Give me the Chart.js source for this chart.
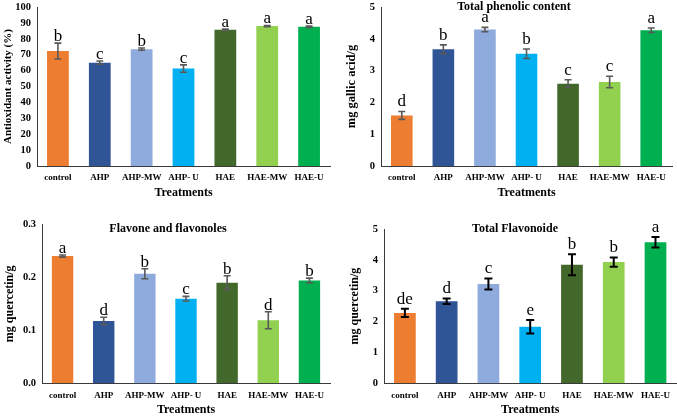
<!DOCTYPE html>
<html><head><meta charset="utf-8">
<script src="https://cdn.jsdelivr.net/npm/chart.js@4/dist/chart.umd.min.js"></script>
<style>
html,body{margin:0;padding:0;background:#fff;width:677px;height:418px;overflow:hidden;}
.p{position:absolute;}
canvas{display:block;}
</style></head><body>
<div class="p" style="left:0;top:0;"><canvas id="c1" width="338" height="205"></canvas></div>
<div class="p" style="left:338px;top:0;"><canvas id="c2" width="339" height="205"></canvas></div>
<div class="p" style="left:0;top:205px;"><canvas id="c3" width="338" height="213"></canvas></div>
<div class="p" style="left:338px;top:205px;"><canvas id="c4" width="339" height="213"></canvas></div>
<script>
// ---- data ----
const categories = ['control', 'AHP', 'AHP-MW', 'AHP- U', 'HAE', 'HAE-MW', 'HAE-U'];
const barColors = ['#ED7D31', '#2F5597', '#8FAADC', '#00B0F0', '#43682B', '#92D050', '#00B050'];

const antioxValues = [72.3, 65.0, 73.5, 61.3, 85.7, 88.0, 87.6];
const antioxErrors = [5.0, 1.0, 0.7, 2.3, 0.5, 0.4, 0.4];
const antioxLetters = ['b', 'c', 'b', 'c', 'a', 'a', 'a'];
const antioxTicks = ['0', '10', '20', '30', '40', '50', '60', '70', '80', '90', '100'];

const phenolicValues = [1.59, 3.67, 4.29, 3.53, 2.59, 2.64, 4.27];
const phenolicErrors = [0.125, 0.14, 0.07, 0.15, 0.12, 0.18, 0.07];
const phenolicLetters = ['d', 'b', 'a', 'b', 'c', 'c', 'a'];
const phenolicTicks = ['0', '1', '2', '3', '4', '5'];

const flavoneValues = [0.240, 0.1177, 0.2067, 0.1597, 0.1898, 0.119, 0.194];
const flavoneErrors = [0.002, 0.007, 0.0094, 0.0044, 0.013, 0.016, 0.0044];
const flavoneLetters = ['a', 'd', 'b', 'c', 'b', 'd', 'b'];
const flavoneTicks = ['0.0', '0.1', '0.2', '0.3'];

const flavonoidValues = [2.28, 2.66, 3.22, 1.83, 3.84, 3.93, 4.57];
const flavonoidErrors = [0.135, 0.09, 0.18, 0.22, 0.34, 0.15, 0.17];
const flavonoidLetters = ['de', 'd', 'c', 'e', 'b', 'b', 'a'];
const flavonoidTicks = ['0', '1', '2', '3', '4', '5'];

// ---- plugin: y tick labels, error bars, letters, panel title ----
const extras = {
  id: 'extras',
  afterDatasetsDraw(chart, args, o) {
    const ctx = chart.ctx;
    const meta = chart.getDatasetMeta(0);
    const ys = chart.scales.y;
    const vals = chart.data.datasets[0].data;
    ctx.save();
    // y-axis tick labels, placed by the y scale
    ctx.font = 'bold 10.5px "Liberation Serif"';
    ctx.fillStyle = '#000';
    ctx.textAlign = 'right';
    ctx.textBaseline = 'middle';
    o.ticks.forEach(t => {
      ctx.fillText(t, chart.chartArea.left - o.tickPad, ys.getPixelForValue(parseFloat(t)));
    });
    meta.data.forEach((bar, i) => {
      const v = vals[i], e = o.errors[i];
      const yT = ys.getPixelForValue(v + e);
      const yB = ys.getPixelForValue(v - e);
      ctx.strokeStyle = o.errColor;
      ctx.lineWidth = o.errWidth;
      ctx.beginPath();
      ctx.moveTo(bar.x, yT); ctx.lineTo(bar.x, yB);
      ctx.moveTo(bar.x - o.cap, yT); ctx.lineTo(bar.x + o.cap, yT);
      ctx.moveTo(bar.x - o.cap, yB); ctx.lineTo(bar.x + o.cap, yB);
      ctx.stroke();
      ctx.fillStyle = '#000';
      ctx.font = '17px "Liberation Serif"';
      ctx.textAlign = 'center';
      ctx.textBaseline = 'alphabetic';
      ctx.fillText(o.letters[i], bar.x, yT - o.gap);
    });
    if (o.title) {
      ctx.font = 'bold 12px "Liberation Serif"';
      ctx.textAlign = 'center';
      ctx.textBaseline = 'middle';
      ctx.fillStyle = '#000';
      ctx.fillText(o.title, o.titleX, o.titleY);
    }
    ctx.restore();
  }
};

function makeChart(id, p) {
  new Chart(document.getElementById(id), {
    type: 'bar',
    data: {
      labels: categories,
      datasets: [{ data: p.values, backgroundColor: barColors, borderWidth: 0,
        categoryPercentage: 1, barPercentage: 0.52 }]
    },
    plugins: [extras],
    options: {
      responsive: false, animation: false, devicePixelRatio: 1,
      layout: { padding: { left: 0, top: p.padTop, right: p.padRight, bottom: 0 } },
      plugins: {
        legend: { display: false }, tooltip: { enabled: false },
        extras: { ticks: p.ticks, tickPad: 6, errors: p.errors, letters: p.letters, gap: p.gap,
          errColor: p.errColor, errWidth: p.errWidth, cap: p.cap,
          title: p.title, titleX: p.titleX, titleY: p.titleY }
      },
      scales: {
        x: {
          grid: { display: false, drawTicks: false },
          border: { display: true, color: '#3a3a3a', width: 1 },
          ticks: { color: '#000', font: { family: '"Liberation Serif"', weight: 'bold', size: 9 },
            padding: p.xTickPad, maxRotation: 0, autoSkip: false },
          title: { display: true, text: 'Treatments', color: '#000',
            font: { family: '"Liberation Serif"', weight: 'bold', size: 12 },
            padding: { top: 0, bottom: p.xTitlePad } },
          afterFit(s) { s.height = p.xHeight; }
        },
        y: {
          min: p.min, max: p.max,
          grid: { display: false, drawTicks: false },
          border: { display: true, color: '#3a3a3a', width: 1 },
          ticks: { display: false },
          title: { display: true, text: p.yTitle, color: '#000',
            font: { family: '"Liberation Serif"', weight: 'bold', size: p.yTitleSize },
            padding: { top: p.yTitlePad, bottom: 0 } },
          afterFit(s) { s.width = p.yWidth; }
        }
      }
    }
  });
}

makeChart('c1', { values: antioxValues, errors: antioxErrors, letters: antioxLetters, ticks: antioxTicks,
  min: 0, max: 100, yTitle: 'Antioxidant activity (%)', yTitleSize: 11, yTitlePad: 1.4,
  padTop: 7, padRight: 8, yWidth: 37, xHeight: 39, xTickPad: 6, xTitlePad: 4.8,
  gap: 2, errColor: '#595959', errWidth: 1.6, cap: 3.5 });

makeChart('c2', { values: phenolicValues, errors: phenolicErrors, letters: phenolicLetters, ticks: phenolicTicks,
  min: 0, max: 5, yTitle: 'mg gallic acid/g', yTitleSize: 12.5, yTitlePad: 6.5,
  padTop: 7, padRight: 5, yWidth: 43, xHeight: 39, xTickPad: 6, xTitlePad: 4.8,
  gap: 5, errColor: '#595959', errWidth: 1.6, cap: 3.5,
  title: 'Total phenolic content', titleX: 176, titleY: 7 });

makeChart('c3', { values: flavoneValues, errors: flavoneErrors, letters: flavoneLetters, ticks: flavoneTicks,
  min: 0, max: 0.3, yTitle: 'mg quercetin/g', yTitleSize: 12, yTitlePad: 2.8,
  padTop: 19.3, padRight: 8, yWidth: 42, xHeight: 34.7, xTickPad: 7, xTitlePad: 0.8,
  gap: 2, errColor: '#595959', errWidth: 1.6, cap: 3.5,
  title: 'Flavone and flavonoles', titleX: 168, titleY: 23.5 });

makeChart('c4', { values: flavonoidValues, errors: flavonoidErrors, letters: flavonoidLetters, ticks: flavonoidTicks,
  min: 0, max: 5, yTitle: 'mg quercetin/g', yTitleSize: 12, yTitlePad: 9.8,
  padTop: 24, padRight: 0, yWidth: 46, xHeight: 34.7, xTickPad: 7, xTitlePad: 0.8,
  gap: 5, errColor: '#000', errWidth: 2, cap: 4,
  title: 'Total Flavonoide', titleX: 177, titleY: 24 });
</script>
</body></html>
